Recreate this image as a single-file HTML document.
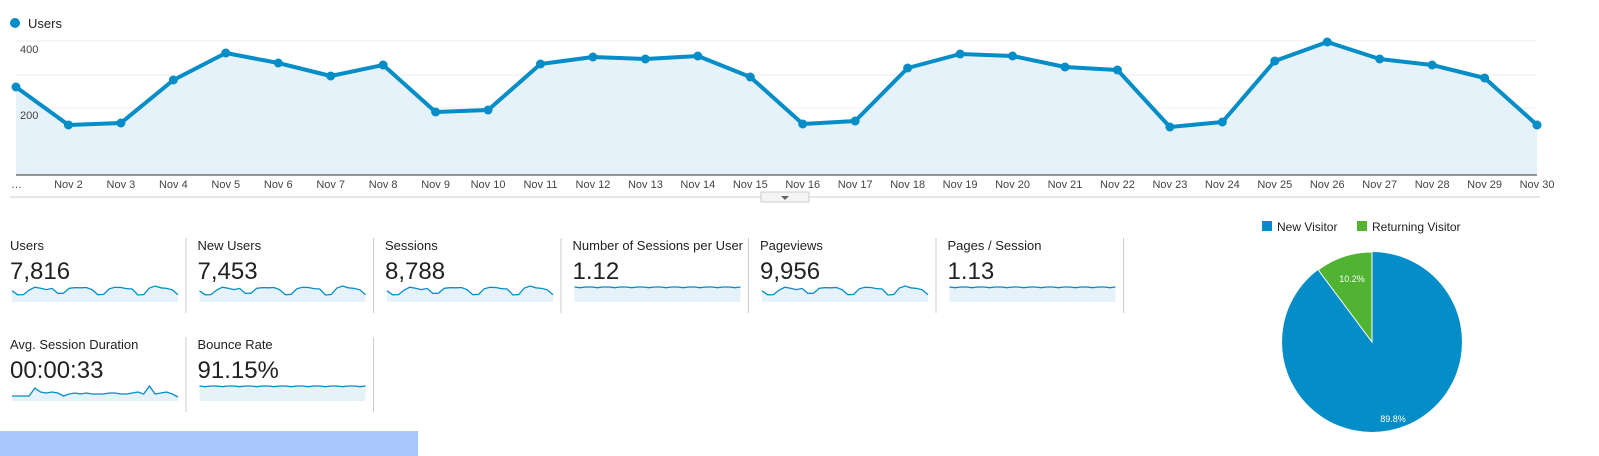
<!DOCTYPE html>
<html><head><meta charset="utf-8"><style>
body{margin:0;width:1599px;height:456px;background:#fff;overflow:hidden;font-family:"Liberation Sans",Arial,sans-serif}
svg{position:absolute;left:0;top:0}
</style></head><body>
<svg id="s" width="1599" height="456" xmlns="http://www.w3.org/2000/svg" font-family="Liberation Sans, Arial, sans-serif">
<circle cx="15" cy="23" r="5" fill="#058dc7"/>
<text x="28" y="28" font-size="13" fill="#222">Users</text>
<g stroke="#ececec" stroke-width="1">
<line x1="16" y1="41" x2="1537" y2="41"/><line x1="16" y1="75" x2="1537" y2="75"/>
<line x1="16" y1="108" x2="1537" y2="108"/><line x1="16" y1="142" x2="1537" y2="142"/>
</g>
<g id="main"></g>
<line x1="16" y1="175" x2="1537" y2="175" stroke="#333" stroke-width="1"/>
<text x="20" y="53" font-size="11" fill="#444">400</text>
<text x="20" y="119" font-size="11" fill="#444">200</text>
<g id="xl" font-size="11" fill="#444" text-anchor="middle"></g>
<text x="11" y="188" font-size="11" fill="#444">…</text>
<line x1="10" y1="197" x2="1540" y2="197" stroke="#ccc"/>
<rect x="761" y="192" width="48" height="10" fill="#f4f4f4" stroke="#ccc"/>
<path d="M781 196 L789 196 L785 200 Z" fill="#666"/>
<g id="mets"></g>
<rect x="0" y="431" width="418" height="25" fill="#a8c7fa"/>
<rect x="1262" y="221" width="10" height="10" fill="#058dc7"/>
<text x="1277" y="231" font-size="12" fill="#222">New Visitor</text>
<rect x="1357" y="221" width="10" height="10" fill="#50b432"/>
<text x="1372" y="231" font-size="12" fill="#222">Returning Visitor</text>
<circle cx="1372" cy="342" r="90" fill="#058dc7"/>
<path d="M1372 342 L1372 252 A90 90 0 0 0 1318.2 269.9 Z" fill="#50b432" stroke="#fff" stroke-width="1"/>
<text x="1352" y="282" font-size="9" fill="#fff" text-anchor="middle">10.2%</text>
<text x="1393" y="422" font-size="9" fill="#fff" text-anchor="middle">89.8%</text>
</svg>
<script>
var NS="http://www.w3.org/2000/svg";
var Y=[87,125,123,80,53,63,76,65,112,110,64,57,59,56,77,124,121,68,54,56,67,70,127,122,61,42,59,65,78,125];
function el(t,a,p){var e=document.createElementNS(NS,t);for(var k in a)e.setAttribute(k,a[k]);p.appendChild(e);return e;}
var m=document.getElementById("main"),st=52.45,pts=Y.map(function(y,i){return [16+i*st,y];});
var d=pts.map(function(p){return p[0].toFixed(1)+","+p[1];}).join(" ");
el("polygon",{points:"16,175 "+d+" 1537,175",fill:"#e5f2f9"},m);
el("polyline",{points:d,fill:"none",stroke:"#058dc7","stroke-width":4,"stroke-linejoin":"round"},m);
pts.forEach(function(p){el("circle",{cx:p[0],cy:p[1],r:4.5,fill:"#058dc7"},m);});
var xl=document.getElementById("xl");
for(var i=1;i<30;i++){var t=el("text",{x:16+i*st,y:188},xl);t.textContent="Nov "+(i+1);}
var g=document.getElementById("mets");
var D=[1,1,1,1,9,5,4,5,4,1,3,4,3,4,3,3,3,4,4,3,3,4,5,3,11,3,4,5,3,5];
D[29]=0;
var M=[["Users","7,816",0],["New Users","7,453",0],["Sessions","8,788",0],["Number of Sessions per User","1.12",1],["Pageviews","9,956",0],["Pages / Session","1.13",1],["Avg. Session Duration","00:00:33",2],["Bounce Rate","91.15%",1]];
M.forEach(function(mm,k){
 var col=k<6?k:k-6,row=k<6?0:1,x=10+col*187.5,y=row?337:238;
 var t=el("text",{x:x,y:y+12,"font-size":13,fill:"#222"},g);t.textContent=mm[0];
 t=el("text",{x:x,y:y+41,"font-size":24,fill:"#222"},g);t.textContent=mm[1];
 var x0=x+2,w=166,top=y+46,bot=y+64,ps=[];
 for(var i=0;i<30;i++){var v;
  if(mm[2]==0)v=top+2+(Y[i]-42)/85*9;else if(mm[2]==1)v=top+3+(i%3==1?0.7:0);else v=top+14-D[i];
  ps.push((x0+i*w/29).toFixed(1)+","+v.toFixed(1));}
 el("polygon",{points:x0+","+bot+" "+ps.join(" ")+" "+(x0+w)+","+bot,fill:"#e5f2f9"},g);
 el("polyline",{points:ps.join(" "),fill:"none",stroke:"#058dc7","stroke-width":1.3},g);
 if(row==0||col<2) el("line",{x1:x+176,y1:y,x2:x+176,y2:y+75,stroke:"#ccc"},g);
});
</script>
</body></html>
